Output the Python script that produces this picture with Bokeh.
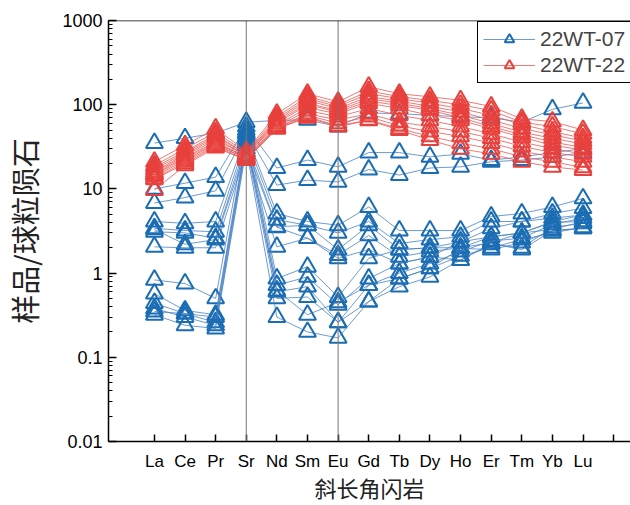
from bokeh.plotting import figure
from bokeh.models import (Range1d, FixedTicker, LogTicker, CustomJSTickFormatter,
                          Span, Legend, LegendItem)
from bokeh.embed import file_html
from bokeh.resources import INLINE

elements = ["La", "Ce", "Pr", "Sr", "Nd", "Sm", "Eu", "Gd", "Tb", "Dy", "Ho", "Er", "Tm", "Yb", "Lu"]
xpos = list(range(1, 16))
y_tick_values = [0.01, 0.1, 1, 10, 100, 1000]

# 22WT-07 samples (chondrite-normalised)
wt07_b0 = [35, 40, 46, 62, 65, 66, 55, 80, 78, 75, 72, 70, 62, 88, 105]
wt07_b1 = [10, 11.7, 13.8, 55, 17.7, 22, 18.3, 27, 27, 24, 26, 22, 24, 27, 30]
wt07_b2 = [6.8, 7.9, 9.5, 47, 11.1, 12.7, 12.1, 17, 14.6, 17.7, 18.3, 21, 22, 24, 27]
wt07_s1 = [4.1, 3.9, 4.1, 45, 5.1, 4.1, 3.7, 6.1, 3.2, 3.2, 3.2, 4.7, 5.1, 6.1, 7.7]
wt07_s2 = [3.4, 3.2, 3.1, 40, 4.3, 3.7, 3.0, 4.1, 2.25, 2.5, 2.7, 4.1, 4.1, 5.1, 5.9]
wt07_s3 = [3.1, 3.0, 2.6, 35, 3.55, 3.7, 1.9, 3.7, 1.9, 2.0, 2.35, 3.4, 4.1, 4.5, 4.9]
wt07_s4 = [3.3, 2.2, 2.5, 30, 3.5, 2.6, 1.64, 2.8, 1.56, 1.8, 2.0, 2.7, 3.0, 4.0, 4.1]
wt07_s5 = [2.05, 2.0, 2.0, 28, 2.05, 2.6, 1.5, 1.9, 1.3, 1.56, 1.43, 2.25, 1.9, 3.2, 3.4]
wt07_s6 = [0.83, 0.75, 0.5, 50, 0.86, 1.19, 0.52, 1.5, 1.9, 2.0, 2.0, 2.3, 3.0, 4.1, 4.9]
wt07_s7 = [0.57, 0.36, 0.32, 42, 0.72, 0.9, 0.42, 0.86, 1.3, 1.56, 2.35, 2.7, 3.0, 3.3, 4.1]
wt07_s8 = [0.44, 0.33, 0.26, 38, 0.6, 0.69, 0.26, 0.72, 0.86, 1.14, 1.97, 1.9, 2.3, 3.2, 3.4]
wt07_s9 = [0.38, 0.30, 0.24, 33, 0.5, 0.52, 0.26, 0.46, 0.69, 0.9, 1.43, 2.2, 2.0, 3.5, 3.9]
wt07_s10 = [0.32, 0.24, 0.22, 30, 0.30, 0.2, 0.17, 0.46, 0.86, 1.14, 1.6, 2.0, 2.5, 3.0, 3.5]
wt07_s11 = [0.35, 0.33, 0.30, 36, 0.62, 0.32, 0.45, 0.72, 1.0, 1.3, 1.8, 2.4, 2.6, 3.8, 4.5]
wt07 = [wt07_b0, wt07_b1, wt07_b2, wt07_s1, wt07_s2, wt07_s3, wt07_s4, wt07_s5,
        wt07_s6, wt07_s7, wt07_s8, wt07_s9, wt07_s10, wt07_s11]

# 22WT-22 samples
wt22_r1 = [21, 33, 52, 28, 78, 135, 108, 163, 135, 124, 113, 95, 68, 63, 50]
wt22_r2 = [19, 30, 47, 27, 72, 125, 100, 145, 125, 112, 100, 85, 62, 55, 45]
wt22_r3 = [18, 28, 44, 26, 68, 118, 95, 135, 118, 104, 90, 75, 58, 48, 40]
wt22_r4 = [17, 27, 42, 26, 65, 112, 90, 125, 110, 96, 82, 66, 52, 44, 37]
wt22_r5 = [16, 26, 40, 25, 63, 104, 85, 118, 104, 90, 75, 60, 47, 40, 34]
wt22_r6 = [15.5, 25, 38, 25, 60, 100, 82, 110, 98, 86, 70, 55, 44, 36, 31]
wt22_r7 = [15, 24, 36, 24, 57, 92, 78, 104, 90, 75, 65, 52, 41, 33, 29]
wt22_r8 = [14.6, 23, 35, 24, 55, 85, 72, 90, 75, 65, 55, 45, 36, 30, 26]
wt22_r9 = [14, 22, 34, 23, 54, 78, 66, 78, 62, 55, 48, 40, 32, 27, 24]
wt22_r10 = [13.3, 21, 33, 23, 53, 75, 60, 72, 56, 48, 42, 35, 28, 24, 21]
wt22_r11 = [13, 20, 32, 22, 52, 72, 56, 66, 52, 42, 35, 30, 24, 21, 18]
wt22_r12 = [9.7, 19, 31, 22, 52, 70, 55, 65, 50, 38, 30, 26, 21, 18.3, 16.7]
wt22 = [wt22_r1, wt22_r2, wt22_r3, wt22_r4, wt22_r5, wt22_r6, wt22_r7, wt22_r8,
        wt22_r9, wt22_r10, wt22_r11, wt22_r12]

BLUE = "#1b6db3"
BLUE_LINE = "#4a82c6"
RED = "#e8403c"
RED_LINE = "#ea5a55"

p = figure(width=630, height=505, y_axis_type="log",
           x_range=Range1d(-0.5, 16.55), y_range=Range1d(0.01, 1000),
           min_border_left=106, min_border_right=0, min_border_top=20, min_border_bottom=64,
           toolbar_location=None, output_backend="svg")
p.outline_line_color = None
p.xgrid.visible = False
p.ygrid.visible = False
p.background_fill_color = "white"

# vertical reference lines at Sr and Eu
for loc in (4, 7):
    p.add_layout(Span(location=loc, dimension="height", line_color="#777777", line_width=1))
p.add_layout(Span(location=1000, dimension="width", line_color="black", line_width=1.5))

blue_renderers = []
for s in wt07:
    l = p.line(xpos, s, line_color=BLUE_LINE, line_width=1, line_alpha=0.8)
    m = p.scatter(xpos, s, marker="triangle", size=17, line_color=BLUE, line_width=2, fill_color=None)
    if not blue_renderers:
        blue_renderers = [l, m]

red_renderers = []
for s in wt22:
    l = p.line(xpos, s, line_color=RED_LINE, line_width=1, line_alpha=0.8)
    m = p.scatter(xpos, s, marker="triangle", size=17, line_color=RED, line_width=2, fill_color=None)
    if not red_renderers:
        red_renderers = [l, m]

# axes
p.xaxis.ticker = FixedTicker(ticks=list(range(1, 17)))
p.xaxis.major_label_overrides = {**{i: e for i, e in zip(xpos, elements)}, 16: ""}
p.yaxis.ticker = LogTicker(desired_num_ticks=6, num_minor_ticks=10)
p.yaxis.formatter = CustomJSTickFormatter(code="return Number(tick.toPrecision(6)).toString();")

for ax in (p.xaxis[0], p.yaxis[0]):
    ax.axis_line_width = 1.5
    ax.axis_line_color = "black"
    ax.major_tick_line_width = 1.5
    ax.major_tick_out = 0
    ax.minor_tick_out = 0
    ax.major_label_text_font = "Liberation Sans"
    ax.major_label_text_color = "black"
    ax.axis_label_text_font = "Noto Sans CJK SC"
    ax.axis_label_text_font_style = "normal"
    ax.axis_label_text_color = "#222222"

p.xaxis.major_tick_in = 7
p.xaxis.major_label_text_font_size = "17px"
p.xaxis.major_label_standoff = 10
p.xaxis.axis_label = "斜长角闪岩"
p.xaxis.axis_label_text_font_size = "22px"
p.xaxis.axis_label_standoff = -3

p.yaxis.major_tick_in = 8
p.yaxis.minor_tick_in = 4
p.yaxis.minor_tick_line_width = 1
p.yaxis.minor_tick_line_color = "black"
p.yaxis.major_label_text_font_size = "18px"
p.yaxis.major_label_standoff = 6
p.yaxis.axis_label = "样品/球粒陨石"
p.yaxis.axis_label_text_font_size = "29px"
p.yaxis.axis_label_standoff = 14

legend = Legend(items=[LegendItem(label="22WT-07", renderers=blue_renderers),
                       LegendItem(label="22WT-22", renderers=red_renderers)],
                location=(369, 358))
legend.label_text_font = "Liberation Sans"
legend.label_text_font_size = "21px"
legend.border_line_color = "black"
legend.border_line_width = 1
legend.border_line_alpha = 1
legend.background_fill_alpha = 1
legend.glyph_width = 52
legend.glyph_height = 24
legend.label_height = 24
legend.label_standoff = 5
legend.padding = 5
legend.spacing = 2
legend.margin = 0
p.add_layout(legend)

open("out.html", "w").write(file_html(p, INLINE))
